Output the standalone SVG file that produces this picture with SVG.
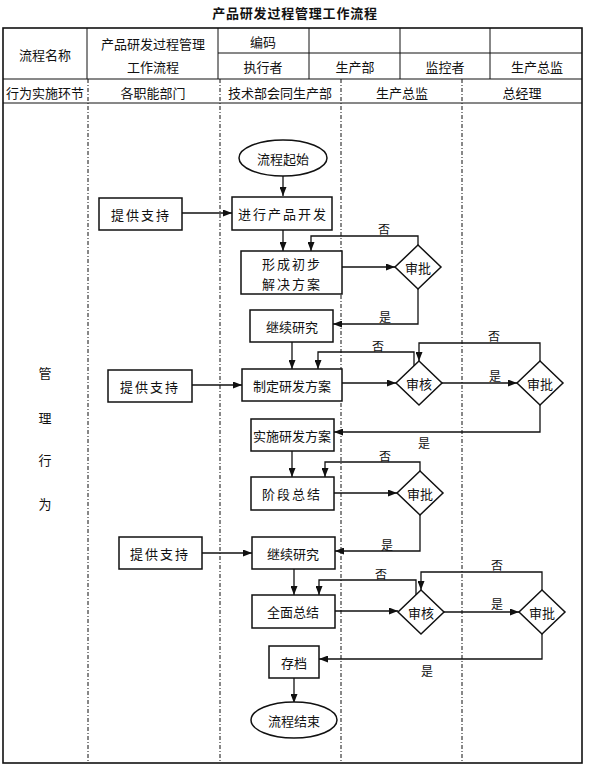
<svg xmlns="http://www.w3.org/2000/svg" width="590" height="767" viewBox="0 0 590 767">
<style>
text{font-family:"Noto Sans CJK SC","Liberation Sans",sans-serif;font-size:13px;fill:#111;text-anchor:middle;dominant-baseline:central}
.title{font-size:13px;font-weight:bold;letter-spacing:0.8px}
.box{fill:#fff;stroke:#111;stroke-width:1.5}
.grid{stroke:#111;stroke-width:1;fill:none}
.outer{stroke:#111;stroke-width:1.6;fill:none}
.lane{stroke:#111;stroke-width:1;stroke-dasharray:4 2 1 2;fill:none}
.con{stroke:#111;stroke-width:1.3;fill:none}
.sp{letter-spacing:2px}
.lbl{font-size:12px}
</style>
<defs>
<marker id="ah" markerWidth="9" markerHeight="7" refX="9" refY="3.5" orient="auto" markerUnits="userSpaceOnUse">
<path d="M0,0 L9,3.5 L0,7 z" fill="#111"/>
</marker>
</defs>
<rect width="590" height="767" fill="#fff"/>
<text class="title" x="295" y="12">产品研发过程管理工作流程</text>

<g id="table">
<rect class="outer" x="3" y="28" width="579" height="735"/>
<line class="grid" x1="218" y1="53" x2="582" y2="53"/>
<line class="grid" x1="3" y1="79" x2="582" y2="79"/>
<line class="grid" x1="3" y1="103" x2="582" y2="103"/>
<line class="grid" x1="87" y1="28" x2="87" y2="79"/>
<line class="grid" x1="218" y1="28" x2="218" y2="79"/>
<line class="grid" x1="309" y1="28" x2="309" y2="79"/>
<line class="grid" x1="400" y1="28" x2="400" y2="79"/>
<line class="grid" x1="490" y1="28" x2="490" y2="79"/>
<line class="lane" x1="88" y1="79" x2="88" y2="763"/>
<line class="lane" x1="220" y1="79" x2="220" y2="763"/>
<line class="lane" x1="341" y1="79" x2="341" y2="763"/>
<line class="lane" x1="462" y1="79" x2="462" y2="763"/>
<text x="45" y="54">流程名称</text>
<text x="153" y="43">产品研发过程管理</text>
<text x="153" y="66">工作流程</text>
<text x="263" y="41">编码</text>
<text x="263" y="66">执行者</text>
<text x="355" y="66">生产部</text>
<text x="445" y="66">监控者</text>
<text x="537" y="66">生产总监</text>
<text x="45" y="92">行为实施环节</text>
<text x="153" y="92">各职能部门</text>
<text x="280" y="92">技术部会同生产部</text>
<text x="402" y="92">生产总监</text>
<text x="522" y="92">总经理</text>
<text x="45" y="372">管</text>
<text x="45" y="417">理</text>
<text x="45" y="459">行</text>
<text x="45" y="503">为</text>
</g>

<g id="connectors">
<path class="con" marker-end="url(#ah)" d="M283,176 V196"/>
<path class="con" marker-end="url(#ah)" d="M182,213 H232"/>
<path class="con" marker-end="url(#ah)" d="M283,230 V251"/>
<path class="con" marker-end="url(#ah)" d="M342,267 H395"/>
<path class="con" marker-end="url(#ah)" d="M418,245 V236 H311 V251"/>
<path class="con" marker-end="url(#ah)" d="M418,289 V324 H333"/>
<path class="con" marker-end="url(#ah)" d="M292,342 V369"/>
<path class="con" marker-end="url(#ah)" d="M192,385 H242"/>
<path class="con" marker-end="url(#ah)" d="M342,383 H396"/>
<path class="con" marker-end="url(#ah)" d="M414,366 V352 H318 V369"/>
<path class="con" marker-end="url(#ah)" d="M442,383 H517"/>
<path class="con" marker-end="url(#ah)" d="M540,361 V343 H419 V361"/>
<path class="con" marker-end="url(#ah)" d="M540,405 V432 H334"/>
<path class="con" marker-end="url(#ah)" d="M292,451 V477"/>
<path class="con" marker-end="url(#ah)" d="M334,493 H397"/>
<path class="con" marker-end="url(#ah)" d="M420,471 V462 H325 V477"/>
<path class="con" marker-end="url(#ah)" d="M420,515 V551 H335"/>
<path class="con" marker-end="url(#ah)" d="M202,553 H252"/>
<path class="con" marker-end="url(#ah)" d="M294,569 V595"/>
<path class="con" marker-end="url(#ah)" d="M335,611 H398"/>
<path class="con" marker-end="url(#ah)" d="M416,595 V580 H319 V595"/>
<path class="con" marker-end="url(#ah)" d="M444,612 H519"/>
<path class="con" marker-end="url(#ah)" d="M542,590 V572 H421 V590"/>
<path class="con" marker-end="url(#ah)" d="M542,634 V659 H319"/>
<path class="con" marker-end="url(#ah)" d="M294,678 V703"/>
<text class="lbl" x="384" y="228">否</text>
<text class="lbl" x="385" y="316">是</text>
<text class="lbl" x="378" y="345">否</text>
<text class="lbl" x="494" y="335">否</text>
<text class="lbl" x="495" y="375">是</text>
<text class="lbl" x="424" y="442">是</text>
<text class="lbl" x="385" y="455">否</text>
<text class="lbl" x="387" y="544">是</text>
<text class="lbl" x="381" y="573">否</text>
<text class="lbl" x="497" y="564">否</text>
<text class="lbl" x="497" y="603">是</text>
<text class="lbl" x="427" y="670">是</text>
</g>

<g id="start"><ellipse class="box" cx="283" cy="158" rx="44" ry="18"/><text x="283" y="158">流程起始</text></g>
<g id="develop"><rect class="box" x="232" y="197" width="100" height="33"/><text class="sp" x="283" y="213">进行产品开发</text></g>
<g id="support1"><rect class="box" x="99" y="198" width="83" height="32"/><text class="sp" x="141" y="214">提供支持</text></g>
<g id="prelim"><rect class="box" x="241" y="251" width="101" height="43"/><text class="sp" x="292" y="263">形成初步</text><text class="sp" x="292" y="283">解决方案</text></g>
<g id="approve1"><polygon class="box" points="418,245 441,267 418,289 395,267"/><text x="418" y="267">审批</text></g>
<g id="continue1"><rect class="box" x="250" y="310" width="83" height="32"/><text x="292" y="326">继续研究</text></g>
<g id="plan"><rect class="box" x="242" y="369" width="100" height="32"/><text x="292" y="385">制定研发方案</text></g>
<g id="support2"><rect class="box" x="108" y="370" width="84" height="32"/><text class="sp" x="150" y="386">提供支持</text></g>
<g id="review1"><polygon class="box" points="419,361 442,383 419,405 396,383"/><text x="419" y="383">审核</text></g>
<g id="approve2"><polygon class="box" points="540,361 563,383 540,405 517,383"/><text x="540" y="383">审批</text></g>
<g id="implement"><rect class="box" x="251" y="419" width="83" height="32"/><text x="292" y="435">实施研发方案</text></g>
<g id="stage"><rect class="box" x="251" y="477" width="83" height="33"/><text class="sp" x="292" y="493">阶段总结</text></g>
<g id="approve3"><polygon class="box" points="420,471 443,493 420,515 397,493"/><text x="420" y="493">审批</text></g>
<g id="continue2"><rect class="box" x="252" y="537" width="83" height="32"/><text x="293" y="553">继续研究</text></g>
<g id="support3"><rect class="box" x="119" y="537" width="83" height="32"/><text class="sp" x="160" y="553">提供支持</text></g>
<g id="summary"><rect class="box" x="252" y="595" width="83" height="33"/><text x="293" y="611">全面总结</text></g>
<g id="review2"><polygon class="box" points="421,590 444,612 421,634 398,612"/><text x="421" y="612">审核</text></g>
<g id="approve4"><polygon class="box" points="542,590 565,612 542,634 519,612"/><text x="542" y="612">审批</text></g>
<g id="archive"><rect class="box" x="269" y="646" width="50" height="32"/><text x="294" y="662">存档</text></g>
<g id="end"><ellipse class="box" cx="294" cy="720" rx="43" ry="18"/><text x="294" y="720">流程结束</text></g>
</svg>
